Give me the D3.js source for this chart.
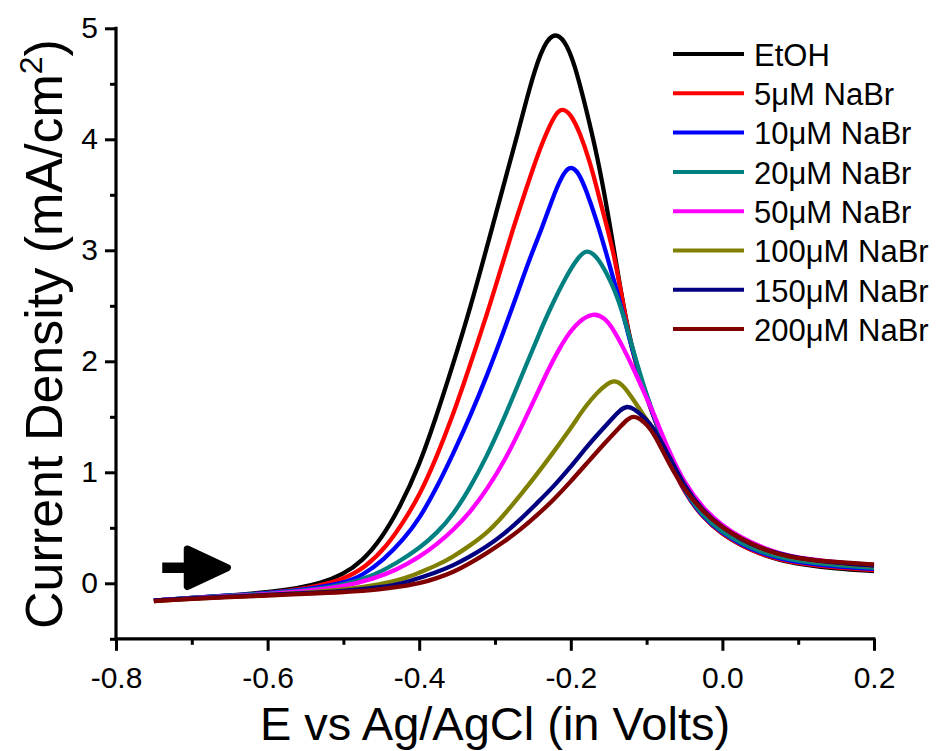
<!DOCTYPE html>
<html>
<head>
<meta charset="utf-8">
<script src="https://cdn.jsdelivr.net/npm/d3@7"></script>
<style>
  html, body { margin: 0; padding: 0; background: #fff; }
  svg { display: block; font-family: "Liberation Sans", Arial, sans-serif; }
</style>
</head>
<body>
<svg id="chart" width="937" height="751"></svg>
<script>
// Linear sweep voltammograms: potential (V vs Ag/AgCl) and current density (mA/cm²)
const seriesNames = ["EtOH", "5\u03bcM NaBr", "10\u03bcM NaBr", "20\u03bcM NaBr",
                     "50\u03bcM NaBr", "100\u03bcM NaBr", "150\u03bcM NaBr", "200\u03bcM NaBr"];
const seriesColors = ["#000000", "#ff0000", "#0000ff", "#008080",
                      "#ff00ff", "#808000", "#000080", "#800000"];

const etoh = [[-0.75,-0.155],[-0.70,-0.13],[-0.65,-0.11],[-0.60,-0.08],[-0.56,-0.045],[-0.53,0.0],
  [-0.50,0.08],[-0.475,0.20],[-0.45,0.40],[-0.425,0.69],[-0.40,1.06],[-0.379,1.47],[-0.355,1.98],
  [-0.333,2.47],[-0.307,3.12],[-0.285,3.68],[-0.27,4.05],[-0.255,4.45],[-0.24,4.79],[-0.224,4.97],
  [-0.208,4.90],[-0.195,4.68],[-0.18,4.28],[-0.165,3.85],[-0.15,3.30],[-0.135,2.66],[-0.12,2.12],
  [-0.105,1.78],[-0.09,1.50],[-0.07,1.12],[-0.05,0.82],[-0.025,0.59],[0,0.44],[0.025,0.34],
  [0.05,0.265],[0.075,0.21],[0.1,0.175],[0.15,0.13],[0.2,0.11]];

const nabr5 = [[-0.75,-0.16],[-0.70,-0.135],[-0.65,-0.115],[-0.60,-0.09],[-0.55,-0.05],[-0.50,0.03],
  [-0.47,0.15],[-0.443,0.33],[-0.42,0.56],[-0.399,0.80],[-0.378,1.12],[-0.358,1.47],[-0.342,1.78],
  [-0.315,2.33],[-0.295,2.77],[-0.276,3.20],[-0.26,3.53],[-0.245,3.84],[-0.228,4.13],[-0.214,4.30],
  [-0.20,4.23],[-0.188,4.06],[-0.175,3.80],[-0.166,3.57],[-0.155,3.28],[-0.143,2.97],[-0.13,2.48],
  [-0.12,2.11],[-0.105,1.77],[-0.09,1.49],[-0.07,1.11],[-0.05,0.81],[-0.025,0.585],[0,0.44],
  [0.025,0.34],[0.05,0.265],[0.075,0.215],[0.1,0.18],[0.15,0.14],[0.2,0.12]];

const nabr10 = [[-0.75,-0.155],[-0.70,-0.13],[-0.65,-0.11],[-0.60,-0.09],[-0.55,-0.055],[-0.50,0.0],
  [-0.475,0.07],[-0.447,0.21],[-0.42,0.40],[-0.399,0.59],[-0.377,0.86],[-0.355,1.17],[-0.333,1.50],
  [-0.31,1.88],[-0.289,2.26],[-0.27,2.62],[-0.254,2.93],[-0.238,3.20],[-0.225,3.45],[-0.214,3.64],
  [-0.202,3.77],[-0.19,3.71],[-0.179,3.53],[-0.166,3.27],[-0.153,2.97],[-0.142,2.70],[-0.131,2.43],
  [-0.12,2.13],[-0.105,1.78],[-0.09,1.49],[-0.07,1.12],[-0.05,0.82],[-0.025,0.59],[0,0.45],
  [0.025,0.35],[0.05,0.275],[0.075,0.225],[0.1,0.19],[0.15,0.15],[0.2,0.13]];

const nabr20 = [[-0.75,-0.155],[-0.70,-0.13],[-0.65,-0.11],[-0.60,-0.095],[-0.55,-0.065],[-0.50,-0.02],
  [-0.46,0.07],[-0.43,0.18],[-0.399,0.32],[-0.377,0.45],[-0.355,0.62],[-0.333,0.86],[-0.311,1.14],
  [-0.291,1.44],[-0.275,1.70],[-0.258,1.98],[-0.241,2.26],[-0.227,2.48],[-0.205,2.78],[-0.19,2.94],
  [-0.179,3.01],[-0.166,2.95],[-0.153,2.80],[-0.142,2.64],[-0.131,2.43],[-0.12,2.15],[-0.105,1.80],
  [-0.09,1.50],[-0.07,1.13],[-0.05,0.83],[-0.025,0.60],[0,0.46],[0.025,0.36],[0.05,0.285],
  [0.075,0.235],[0.1,0.20],[0.15,0.16],[0.2,0.14]];

const nabr50 = [[-0.75,-0.155],[-0.70,-0.135],[-0.65,-0.115],[-0.60,-0.10],[-0.55,-0.07],[-0.50,-0.03],
  [-0.46,0.04],[-0.43,0.12],[-0.399,0.24],[-0.377,0.35],[-0.355,0.48],[-0.333,0.64],[-0.311,0.84],
  [-0.285,1.13],[-0.263,1.44],[-0.245,1.70],[-0.23,1.92],[-0.218,2.08],[-0.205,2.23],[-0.19,2.36],
  [-0.17,2.44],[-0.155,2.39],[-0.144,2.29],[-0.132,2.14],[-0.117,1.93],[-0.10,1.67],[-0.09,1.52],
  [-0.07,1.18],[-0.05,0.90],[-0.025,0.67],[0,0.52],[0.025,0.41],[0.05,0.33],[0.075,0.27],
  [0.1,0.23],[0.15,0.19],[0.2,0.16]];

const nabr100 = [[-0.75,-0.16],[-0.70,-0.14],[-0.65,-0.12],[-0.60,-0.105],[-0.55,-0.085],[-0.50,-0.06],
  [-0.45,-0.01],[-0.42,0.04],[-0.399,0.10],[-0.377,0.16],[-0.355,0.24],[-0.333,0.34],[-0.311,0.45],
  [-0.29,0.60],[-0.267,0.79],[-0.245,0.98],[-0.223,1.18],[-0.205,1.35],[-0.194,1.46],[-0.18,1.60],
  [-0.165,1.72],[-0.152,1.80],[-0.142,1.83],[-0.132,1.79],[-0.122,1.70],[-0.11,1.58],[-0.10,1.47],
  [-0.09,1.39],[-0.07,1.14],[-0.05,0.87],[-0.025,0.64],[0,0.50],[0.025,0.39],[0.05,0.31],
  [0.075,0.26],[0.1,0.22],[0.15,0.18],[0.2,0.155]];

const nabr150 = [[-0.75,-0.155],[-0.70,-0.135],[-0.65,-0.12],[-0.60,-0.105],[-0.55,-0.09],[-0.50,-0.07],
  [-0.45,-0.035],[-0.42,0.0],[-0.399,0.05],[-0.377,0.10],[-0.355,0.16],[-0.333,0.24],[-0.311,0.33],
  [-0.289,0.44],[-0.267,0.57],[-0.245,0.72],[-0.223,0.87],[-0.201,1.04],[-0.179,1.23],[-0.162,1.36],
  [-0.146,1.48],[-0.135,1.56],[-0.126,1.60],[-0.116,1.57],[-0.104,1.50],[-0.09,1.40],[-0.07,1.14],
  [-0.05,0.87],[-0.025,0.645],[0,0.50],[0.025,0.395],[0.05,0.315],[0.075,0.265],[0.1,0.225],
  [0.15,0.185],[0.2,0.16]];

const nabr200 = [[-0.75,-0.16],[-0.70,-0.14],[-0.65,-0.125],[-0.60,-0.11],[-0.55,-0.095],[-0.50,-0.08],
  [-0.45,-0.055],[-0.42,-0.025],[-0.399,0.0],[-0.377,0.045],[-0.355,0.10],[-0.333,0.18],[-0.311,0.27],
  [-0.289,0.37],[-0.267,0.48],[-0.245,0.61],[-0.223,0.75],[-0.201,0.91],[-0.179,1.08],[-0.157,1.25],
  [-0.135,1.41],[-0.125,1.48],[-0.117,1.51],[-0.108,1.48],[-0.10,1.43],[-0.09,1.35],[-0.07,1.07],
  [-0.05,0.84],[-0.025,0.64],[0,0.50],[0.025,0.40],[0.05,0.32],[0.075,0.26],[0.1,0.225],
  [0.15,0.19],[0.2,0.17]];

const allSeries = [etoh, nabr5, nabr10, nabr20, nabr50, nabr100, nabr150, nabr200];

const xMajorTicks = [-0.8, -0.6, -0.4, -0.2, 0.0, 0.2];
const xMinorTicks = [-0.7, -0.5, -0.3, -0.1, 0.1];
const yMajorTicks = [0, 1, 2, 3, 4, 5];
const yMinorTicks = [-0.5, 0.5, 1.5, 2.5, 3.5, 4.5];

// Sweep-direction arrow (potential, current density)
const arrowShaft = [[-0.739, 0.14], [-0.70, 0.14]];
const arrowHead = [[-0.706, 0.31], [-0.653, 0.14], [-0.706, -0.03]];

const svg = d3.select("#chart");
const x = d3.scaleLinear().domain([-0.8, 0.2]).range([116, 874]);
const y = d3.scaleLinear().domain([-0.5, 5]).range([638.8, 28.3]);

// Curves, lowest concentration first so the 200 µM trace sits on top
const line = d3.line().x(d => x(d[0])).y(d => y(d[1])).curve(d3.curveBasis);
svg.append("g").selectAll("path").data(allSeries).join("path")
  .attr("d", line)
  .attr("fill", "none")
  .attr("stroke", (d, i) => seriesColors[i])
  .attr("stroke-width", 4.3)
  .attr("stroke-linejoin", "round");

// Arrow
svg.append("line")
  .attr("x1", x(arrowShaft[0][0])).attr("y1", y(arrowShaft[0][1]))
  .attr("x2", x(arrowShaft[1][0])).attr("y2", y(arrowShaft[1][1]))
  .attr("stroke", "#000").attr("stroke-width", 10.5);
svg.append("path")
  .attr("d", d3.line().x(d => x(d[0])).y(d => y(d[1]))(arrowHead) + "Z")
  .attr("fill", "#000").attr("stroke", "#000")
  .attr("stroke-width", 7).attr("stroke-linejoin", "round");

// Axes
const tickFont = 30;
const fmtX = d => d3.format(".1f")(d).replace("\u2212", "-");
const xAxisMajor = d3.axisBottom(x).tickValues(xMajorTicks).tickFormat(fmtX).tickSize(12).tickPadding(16);
const xAxisMinor = d3.axisBottom(x).tickValues(xMinorTicks).tickFormat("").tickSize(6);
const yAxisMajor = d3.axisLeft(y).tickValues(yMajorTicks).tickFormat(d3.format("d")).tickSize(11).tickPadding(7);
const yAxisMinor = d3.axisLeft(y).tickValues(yMinorTicks).tickFormat("").tickSize(6);

function styleAxis(g) {
  g.select(".domain").remove();
  g.selectAll("line").attr("stroke", "#000").attr("stroke-width", 3);
  g.selectAll("text").attr("fill", "#000").style("font-size", tickFont + "px")
    .style("font-family", "'Liberation Sans', Arial, sans-serif");
}

const gx = svg.append("g").attr("transform", `translate(0,${y(-0.5)})`);
gx.append("g").call(xAxisMinor).call(styleAxis);
gx.append("g").call(xAxisMajor).call(styleAxis);
gx.append("line").attr("x1", x(-0.8) - 1.5).attr("x2", x(0.2) + 1.5)
  .attr("stroke", "#000").attr("stroke-width", 3.2);

const gy = svg.append("g").attr("transform", `translate(${x(-0.8)},0)`);
gy.append("g").call(yAxisMinor).call(styleAxis);
gy.append("g").call(yAxisMajor).call(styleAxis);
gy.append("line").attr("y1", y(5) - 1.5).attr("y2", y(-0.5) + 1.5)
  .attr("stroke", "#000").attr("stroke-width", 3.2);

// Axis titles
svg.append("text")
  .attr("x", (x(-0.8) + x(0.2)) / 2).attr("y", 740)
  .attr("text-anchor", "middle").style("font-size", "47px")
  .text("E vs Ag/AgCl (in Volts)");

const yTitle = svg.append("text")
  .attr("transform", "translate(62,334) rotate(-90)")
  .attr("text-anchor", "middle").style("font-size", "52px");
yTitle.append("tspan").text("Current Density (mA/cm");
yTitle.append("tspan").attr("dy", -20).style("font-size", "32px").text("2");
yTitle.append("tspan").attr("dy", 20).text(")");

// Legend
const legend = svg.append("g");
const legendTop = 54, legendStep = 39.3;
seriesNames.forEach((name, i) => {
  const ly = legendTop + i * legendStep;
  legend.append("line").attr("x1", 673).attr("x2", 744).attr("y1", ly).attr("y2", ly)
    .attr("stroke", seriesColors[i]).attr("stroke-width", 4);
  legend.append("text").attr("x", 754).attr("y", ly + 11.8)
    .style("font-size", "31px").text(name);
});
</script>
</body>
</html>
